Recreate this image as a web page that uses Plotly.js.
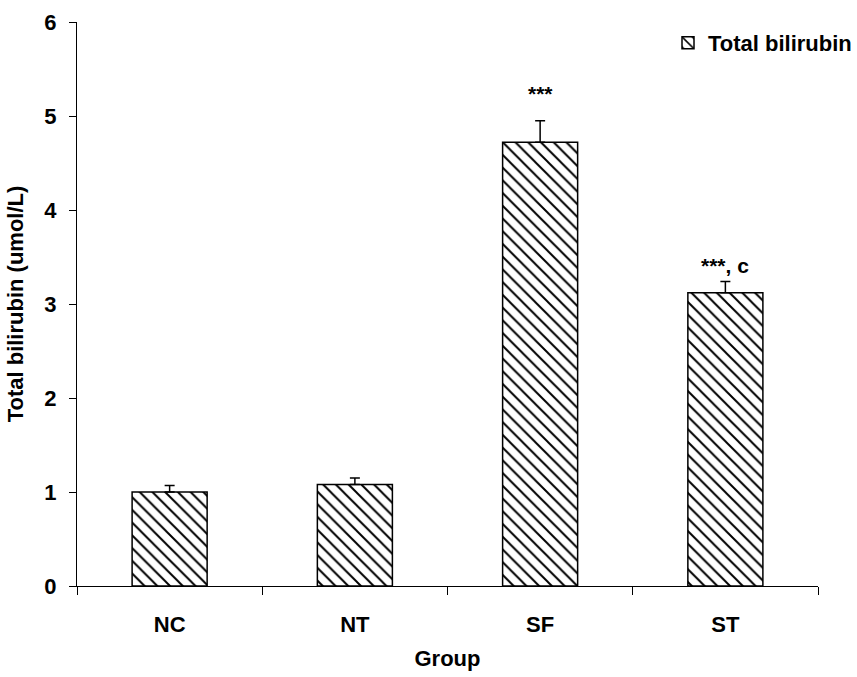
<!DOCTYPE html>
<html>
<head>
<meta charset="utf-8">
<script src="https://cdn.plot.ly/plotly-3.0.1.min.js"></script>
<style>html,body{margin:0;padding:0;background:#fff;}#chart{width:857px;height:677px;}</style>
</head>
<body>
<div id="chart"></div>
<script>
const groups = ["NC", "NT", "SF", "ST"];
const bilirubin = [1.00, 1.08, 4.72, 3.12];
const sem = [0.07, 0.07, 0.23, 0.12];
const significance = ["", "", "***", "***, c"];
const labelY = [null, null, 5.24, 3.41];
const yTicks = [0, 1, 2, 3, 4, 5, 6];

const font = "Arial, 'Liberation Sans', sans-serif";

const trace = {
  type: "bar",
  name: "Total bilirubin",
  x: groups,
  y: bilirubin,
  width: 0.405,
  error_y: {type: "data", array: sem, symmetric: false, arrayminus: sem.map(() => 0), color: "#000", thickness: 1.5, width: 5},
  marker: {
    color: "#fff",
    line: {color: "#000", width: 1.5},
    pattern: {shape: "\\", fgcolor: "#000", bgcolor: "#fff", size: 9, solidity: 0.22}
  },
  showlegend: true
};

const annotations = groups.map((g, i) => ({
  x: g, y: labelY[i], xref: "x", yref: "y", yanchor: "middle",
  text: significance[i], showarrow: false,
  font: {family: font, size: 21, color: "#000", weight: "bold"}
})).filter(a => a.text);

const layout = {
  width: 857, height: 677,
  margin: {l: 77, r: 39, t: 22, b: 91, autoexpand: false},
  paper_bgcolor: "#fff", plot_bgcolor: "#fff",
  font: {family: font, color: "#000"},
  xaxis: {
    type: "category", range: [-0.5, 3.5],
    showline: true, linecolor: "#000", linewidth: 1,
    ticks: "outside", tickson: "boundaries", ticklen: 8, tickcolor: "#000",
    tickfont: {family: font, size: 22, weight: "bold"},
    ticklabelstandoff: 19,
    showgrid: false, zeroline: false,
    title: {text: "Group", font: {family: font, size: 22, weight: "bold"}, standoff: 14}
  },
  yaxis: {
    range: [0, 6], tickvals: yTicks, ticktext: yTicks.map(String),
    showline: true, linecolor: "#000", linewidth: 1,
    ticks: "outside", ticklen: 7, tickcolor: "#000",
    tickfont: {family: font, size: 22, weight: "bold"},
    ticklabelstandoff: 8,
    showgrid: false, zeroline: false,
    title: {text: "Total bilirubin (umol/L)", font: {family: font, size: 22, weight: "bold"}, standoff: 14}
  },
  legend: {
    xref: "container", yref: "container", x: 1, y: 1 - 22/677, xanchor: "right", yanchor: "top",
    font: {family: font, size: 22, weight: "bold"},
    bgcolor: "rgba(0,0,0,0)", itemwidth: 30
  },
  annotations: annotations
};

Plotly.newPlot("chart", [trace], layout, {displayModeBar: false, staticPlot: true});
</script>
</body>
</html>
